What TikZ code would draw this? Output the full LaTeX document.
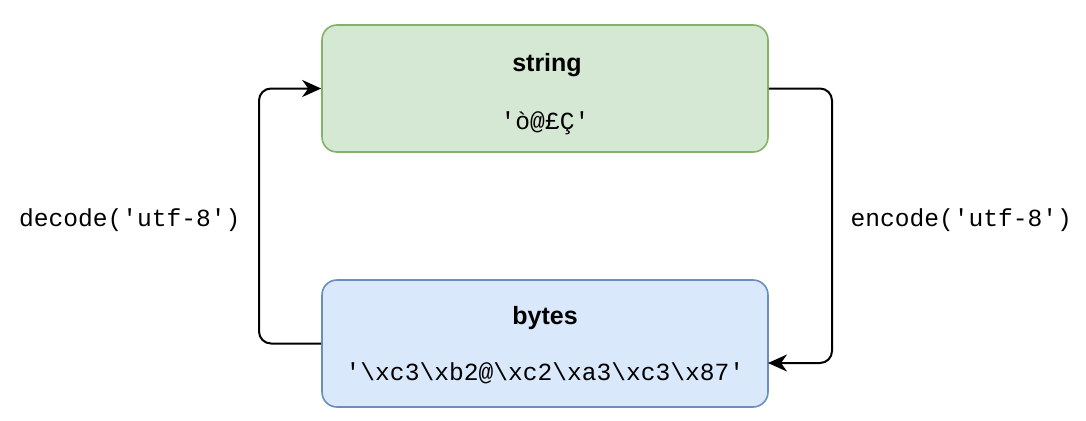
\documentclass[tikz,border=0pt]{standalone}
\usepackage{fontspec}
\setmainfont{Liberation Sans}
\setmonofont{Liberation Mono}
\usetikzlibrary{arrows.meta}
\definecolor{strfill}{HTML}{D5E8D4}
\definecolor{strline}{HTML}{82B366}
\definecolor{bytfill}{HTML}{DAE8FC}
\definecolor{bytline}{HTML}{6C8EBF}
\tikzset{
  box/.style={rounded corners=15pt, minimum width=446pt, minimum height=127pt,
    line width=1.6pt, inner sep=0pt},
  title/.style={anchor=base, font=\fontsize{25}{28}\selectfont\bfseries},
  value/.style={anchor=base, font=\fontsize{24.6}{28}\selectfont\ttfamily},
  conv/.style={-{Stealth[length=19pt,width=17pt,inset=6pt]}, line width=2pt,
    rounded corners=12pt},
}

\begin{document}
\begin{tikzpicture}[x=1pt,y=-1pt]
  \useasboundingbox (0,0) rectangle (1086,420);
  \def\xleft{259}
  \def\xright{832}
  %
  \node[box, draw=strline, fill=strfill] (string) at (545,88.5) {};
  \node[title] (stringtitle) at (547,71) {string};
  \node[value] (stringvalue) at (545,129) {'ò@£Ç'};
  %
  \node[box, draw=bytline, fill=bytfill] (bytes) at (545,343.5) {};
  \node[title] (bytestitle) at (545,324) {bytes};
  \node[value] (bytesvalue) at (545,380)
    {'\textbackslash xc3\textbackslash xb2@\textbackslash xc2\textbackslash xa3\textbackslash xc3\textbackslash x87'};
  %
  \coordinate (rdown) at (\xright,0);
  \coordinate (lup) at (\xleft,0);
  \coordinate (bytesin) at (768,363);
  \draw[conv] (string.east) -- (string.east -| rdown) |- (bytesin);
  \draw[conv] (bytes.west) -- (bytes.west -| lup) |- (string.west);
  %
  \node[value, anchor=base east] (decode) at (244,226) {decode('utf-8')};
  \node[value, anchor=base west] (encode) at (847,226) {encode('utf-8')};
\end{tikzpicture}
\end{document}
